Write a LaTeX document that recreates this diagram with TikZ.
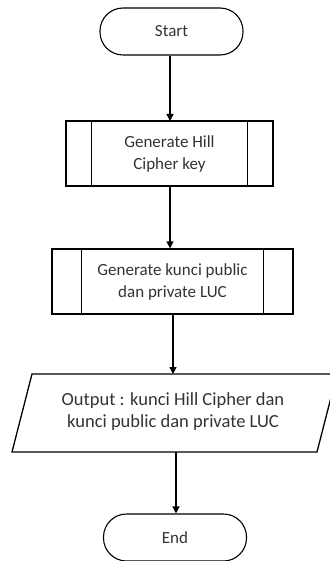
\documentclass[tikz,border=0pt]{standalone}
\usepackage{fontspec}
\setmainfont{Carlito}
\usetikzlibrary{arrows.meta}
\begin{document}
\begin{tikzpicture}[x=1pt,y=-1pt,
  every node/.style={font=\fontsize{17}{22}\selectfont, text=black!80, align=center},
  term/.style={draw, line width=1.1pt, rounded corners=23pt, minimum width=143pt, minimum height=47pt, inner sep=0pt},
  proc/.style={draw, line width=1.3pt, minimum height=65pt, inner sep=0pt},
  flow/.style={draw, line width=1.4pt, -{Triangle[length=7pt,width=7pt]}}
]
\useasboundingbox (0,0) rectangle (329,561);
\node[term] (start) at (171.5,31.5) {Start};
\node[proc, minimum width=207pt] (b1) at (169.5,153.5) {Generate Hill\\Cipher key};
\draw[line width=1.3pt] ([xshift=26pt]b1.north west) -- ([xshift=26pt]b1.south west);
\draw[line width=1.3pt] ([xshift=-26pt]b1.north east) -- ([xshift=-26pt]b1.south east);
\node[proc, minimum width=241pt] (b2) at (172.5,281.5) {Generate kunci public\\dan private LUC};
\draw[line width=1.3pt] ([xshift=30pt]b2.north west) -- ([xshift=30pt]b2.south west);
\draw[line width=1.3pt] ([xshift=-30pt]b2.north east) -- ([xshift=-30pt]b2.south east);
\coordinate (ptl) at (32,374);
\coordinate (ptr) at (337,374);
\coordinate (pbr) at (317,452);
\coordinate (pbl) at (12,452);
\draw[line width=1.3pt] (ptl) -- (ptr) -- (pbr) -- (pbl) -- cycle;
\node[font=\fontsize{18.5}{22}\selectfont] (out) at (173,412) {Output : kunci Hill Cipher dan\\kunci public dan private LUC};
\coordinate (outtop) at (174,374);
\coordinate (outbot) at (176,452);
\node[term] (end) at (175,537.5) {End};
\draw[flow] (start.south -| 170,0) -- (170,121);
\draw[flow] (b1.south -| 170,0) -- (b2.north -| 170,0);
\draw[flow] (b2.south -| 173,0) -- (outtop -| 173,0);
\draw[flow] (outbot) -- (outbot |- end.north);
\end{tikzpicture}
\end{document}
